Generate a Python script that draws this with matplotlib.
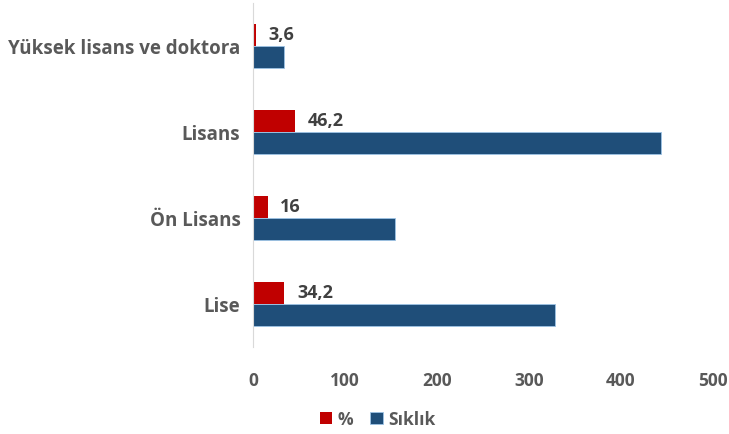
import matplotlib
matplotlib.use('Agg')
import matplotlib.pyplot as plt
import numpy as np

# education level distribution (bottom to top)
categories = ['Lise', 'Ön Lisans', 'Lisans', 'Yüksek lisans ve doktora']
percent = [34.2, 16, 46.2, 3.6]
percent_labels = ['34,2', '16', '46,2', '3,6']
frequency = [328, 154, 443, 34]
x_ticks = [0, 100, 200, 300, 400, 500]

RED = '#c00000'
BLUE = '#1f4e79'
GRAY = '#595959'

plt.rcParams['font.family'] = ['Open Sans', 'DejaVu Sans']


def main():
    fig = plt.figure(figsize=(7.29, 4.35), dpi=100)
    ax = fig.add_axes([0.347, 0.2, 0.631, 0.791])

    y = np.arange(len(categories))
    h = 0.256
    ax.barh(y + h / 2, percent, height=h, color=RED, label='%')
    ax.barh(y - h / 2, frequency, height=h, color=BLUE, label='Sıklık',
            edgecolor='#9dc3e6', linewidth=0.6)

    for yi, v, lab in zip(y, percent, percent_labels):
        ax.annotate(lab, (v, yi + h / 2), xytext=(9, 1), textcoords='offset points',
                    va='center', ha='left', fontsize=13, fontweight='bold', color='#404040')

    ax.set_xlim(0, 500)
    ax.set_ylim(-0.5, len(categories) - 0.5)
    ax.set_xticks(x_ticks)
    ax.set_xticklabels([str(t) for t in x_ticks])
    ax.set_yticks(y)
    ax.set_yticklabels(categories)
    ax.tick_params(axis='x', length=0, labelsize=12.5, labelcolor=GRAY, pad=17)
    ax.tick_params(axis='y', length=0, labelsize=13.5, labelcolor=GRAY, pad=9)
    for lbl in ax.get_xticklabels() + ax.get_yticklabels():
        lbl.set_fontweight('bold')

    for s in ['top', 'right', 'bottom']:
        ax.spines[s].set_visible(False)
    ax.spines['left'].set_color('#d9d9d9')

    fig.legend(loc='center', bbox_to_anchor=(0.518, 0.035), ncol=2, frameon=False,
               handlelength=0.7, handleheight=0.7, handletextpad=0.3, columnspacing=1.0,
               prop={'size': 12.5, 'weight': 'bold'}, labelcolor=GRAY)

    fig.savefig('out.png', dpi=100)


if __name__ == '__main__':
    main()
